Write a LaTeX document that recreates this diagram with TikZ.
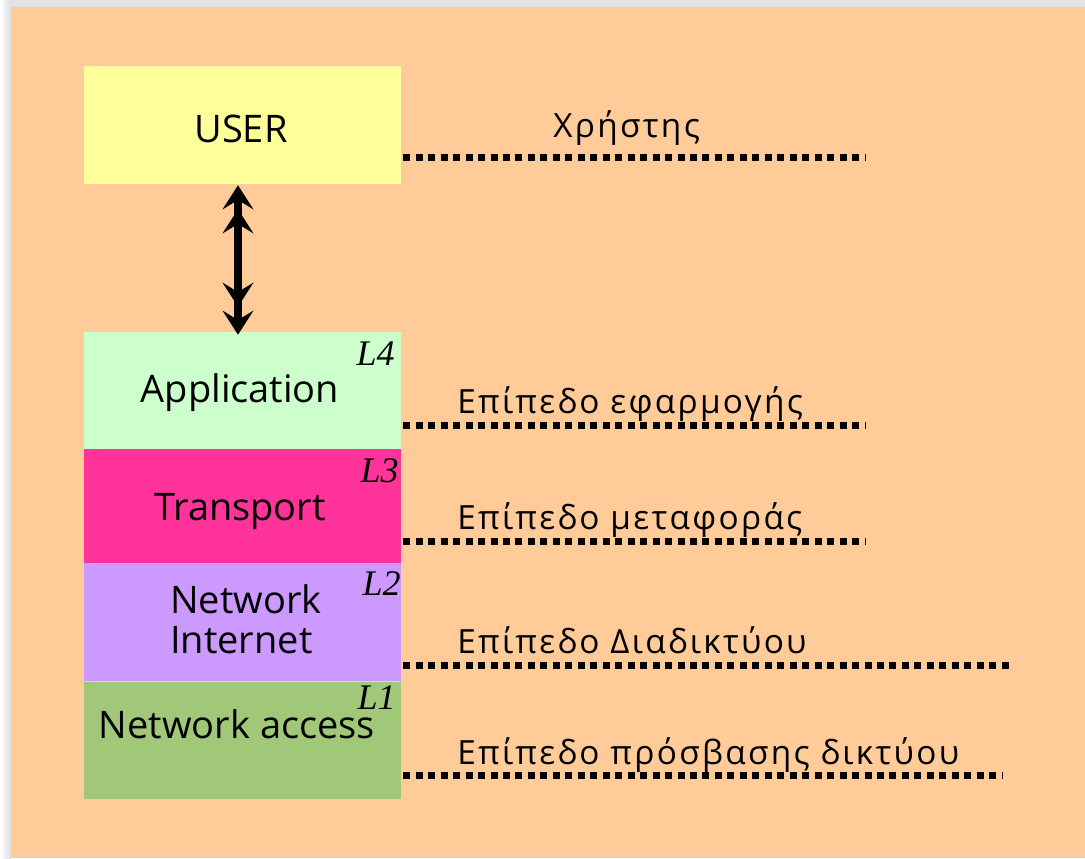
\documentclass[tikz,border=0pt]{standalone}
\usepackage{fontspec}
\setmainfont{Open Sans}
\newfontfamily\labelfont[LetterSpace=7]{Open Sans}
\newfontfamily\tagfont{Liberation Serif}
\usetikzlibrary{arrows.meta,calc}

\definecolor{peach}{HTML}{FFCC99}
\definecolor{useryellow}{HTML}{FFFF99}
\definecolor{appgreen}{HTML}{CCFFCC}
\definecolor{transpink}{HTML}{FF3399}
\definecolor{netlilac}{HTML}{CC99FF}
\definecolor{accessgreen}{HTML}{A0C878}
\definecolor{edgegray}{HTML}{E2E2E4}

\begin{document}
\begin{tikzpicture}[x=0.75pt,y=-0.75pt,
  layerbox/.style={draw=none, inner sep=0pt, minimum width=237.75pt},
  boxtext/.style={font=\fontsize{28.5pt}{34pt}\selectfont, inner sep=0pt, anchor=base},
  layertag/.style={font=\tagfont\itshape\fontsize{27pt}{30pt}\selectfont, inner sep=0pt, anchor=base east},
  greeklabel/.style={font=\labelfont\fontsize{25pt}{29pt}\selectfont, inner sep=0pt, anchor=base west},
  dotline/.style={line width=5.25pt, dash pattern=on 5.25pt off 4.1pt},
  updown/.style={line width=5.5pt, line join=miter,
    {Stealth[length=18pt,width=23pt,inset=7pt,sep=3pt] Stealth[length=18pt,width=23pt,inset=7pt]}-{Stealth[length=18pt,width=23pt,inset=7pt,sep=3pt] Stealth[length=18pt,width=23pt,inset=7pt]}}
]
\useasboundingbox (0,0) rectangle (1085,858);

% page edge and background
\shade[left color=white, right color=gray!28] (0,0) rectangle (11,858);
\fill[edgegray] (11,0) rectangle (1085,7);
\fill[peach] (11,7) rectangle (1085,858);

% layer boxes
\node[layerbox, fill=useryellow,  minimum height=88.5pt]  (user)   at (242.5,125) {};
\node[layerbox, fill=appgreen,    minimum height=87.75pt] (app)    at (242.5,390.5) {};
\node[layerbox, fill=transpink,   minimum height=85.5pt]  (trans)  at (242.5,506) {};
\node[layerbox, fill=netlilac,    minimum height=88.5pt]  (inet)   at (242.5,622) {};
\node[layerbox, fill=accessgreen, minimum height=87.75pt] (access) at (242.5,740.5) {};

% box texts
\node[boxtext] (tuser)   at (241,142) {USER};
\node[boxtext] (tapp)    at (240,402) {Application};
\node[boxtext] (ttrans)  at (240,520) {Transport};
\node[boxtext, anchor=base west] (tnet) at (170,613) {Network};
\node[boxtext, anchor=base west] (tint) at (170,653) {Internet};
\node[boxtext] (tacc)    at (237,738) {Network access};

% layer numbers
\node[layertag] (l4) at (395,365) {L4};
\node[layertag] (l3) at (399,482) {L3};
\node[layertag] (l2) at (401,595) {L2};
\node[layertag] (l1) at (396,709) {L1};

% link between user and application layer
\draw[updown] ($(user.south)+(-4.5,-3)$) -- ($(app.north)+(-4.5,3)$);

% dotted leaders
\coordinate (e0) at (866,157.5);
\coordinate (e4) at (866,425);
\coordinate (e3) at (866,541);
\coordinate (e2) at (1011,665);
\coordinate (e1) at (1002,775);
\draw[dotline] ($(e0 -| user.east)+(2,0)$)   -- (e0);
\draw[dotline] ($(e4 -| app.east)+(2,0)$)    -- (e4);
\draw[dotline] ($(e3 -| trans.east)+(2,0)$)  -- (e3);
\draw[dotline] ($(e2 -| inet.east)+(2,0)$)   -- (e2);
\draw[dotline] ($(e1 -| access.east)+(2,0)$) -- (e1);

% Greek layer names
\node[greeklabel] (g0) at (553,137) {Χρήστης};
\node[greeklabel] (g4) at (457,413) {Επίπεδο εφαρμογής};
\node[greeklabel] (g3) at (457,529) {Επίπεδο μεταφοράς};
\node[greeklabel] (g2) at (457,653) {Επίπεδο Διαδικτύου};
\node[greeklabel] (g1) at (457,764) {Επίπεδο πρόσβασης δικτύου};
\end{tikzpicture}
\end{document}
